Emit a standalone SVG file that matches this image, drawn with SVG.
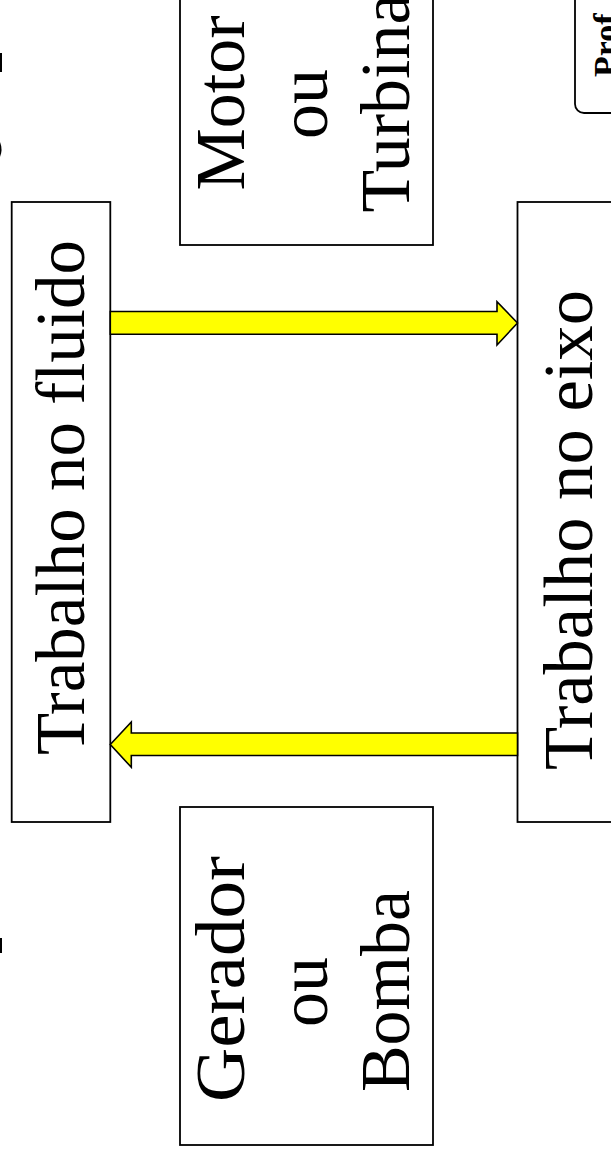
<svg xmlns="http://www.w3.org/2000/svg" width="611" height="1160" viewBox="0 0 611 1160">
  <style>
    .box { fill: #ffffff; stroke: #000000; stroke-width: 1.8; }
    .arrow { fill: #ffff00; stroke: #000000; stroke-width: 1.6; stroke-linejoin: miter; }
    .serif { font-family: 'Liberation Serif', 'Times New Roman', Times, serif; }
  </style>
  <rect width="611" height="1160" fill="#ffffff"/>

  <!-- slivers of the page heading that sit just past the left edge -->
  <g id="heading-edge" fill="#000000">
    <rect x="0" y="53" width="2" height="19"/>
    <path d="M0 142 Q3 149.5 0 157 Z"/>
    <rect x="0" y="938" width="2" height="15"/>
  </g>

  <!-- author tag, top-right corner -->
  <g id="author-tag">
    <rect x="575" y="-20" width="60" height="133" rx="9" ry="9" fill="#ffffff" stroke="#000000" stroke-width="1.8"/>
    <text class="serif" font-size="34" font-weight="bold" fill="#000000" transform="translate(617,77) rotate(-90)">Prof</text>
  </g>

  <!-- text labels share one serif face -->
  <g class="serif" font-size="70" fill="#000000">

    <!-- Motor ou Turbina -->
    <g id="motor-turbina">
      <rect class="box" x="180" y="-37" width="253" height="282"/>
      <text text-anchor="middle" transform="translate(243.5,103) rotate(-90)">Motor</text>
      <text text-anchor="middle" transform="translate(327,104) rotate(-90)">ou</text>
      <text text-anchor="middle" transform="translate(409,103) rotate(-90)">Turbina</text>
    </g>

    <!-- Gerador ou Bomba -->
    <g id="gerador-bomba">
      <rect class="box" x="180" y="807" width="253" height="338"/>
      <text transform="translate(243.5,1102) rotate(-90)" textLength="246" lengthAdjust="spacingAndGlyphs">Gerador</text>
      <text text-anchor="middle" transform="translate(327,992) rotate(-90)">ou</text>
      <text text-anchor="middle" transform="translate(409,991) rotate(-90)">Bomba</text>
    </g>

    <!-- Trabalho no fluido -->
    <g id="trabalho-fluido">
      <rect class="box" x="11.7" y="202" width="98.6" height="620"/>
      <text transform="translate(83.8,755) rotate(-90)" textLength="515" lengthAdjust="spacingAndGlyphs">Trabalho no fluido</text>
    </g>

    <!-- Trabalho no eixo -->
    <g id="trabalho-eixo">
      <rect class="box" x="517.5" y="202" width="120" height="620"/>
      <text transform="translate(592,770) rotate(-90)" textLength="480" lengthAdjust="spacingAndGlyphs">Trabalho no eixo</text>
    </g>
  </g>

  <!-- block arrows between the two kinds of work -->
  <g id="connectors">
    <path class="arrow" d="M110.3 311.5 H497 V301.7 L517.5 323 L497 345 V334.3 H110.3 Z"/>
    <path class="arrow" d="M517.5 733 H131.3 V722 L110.3 744.5 L131.3 767.3 V755.5 H517.5 Z"/>
  </g>
</svg>
